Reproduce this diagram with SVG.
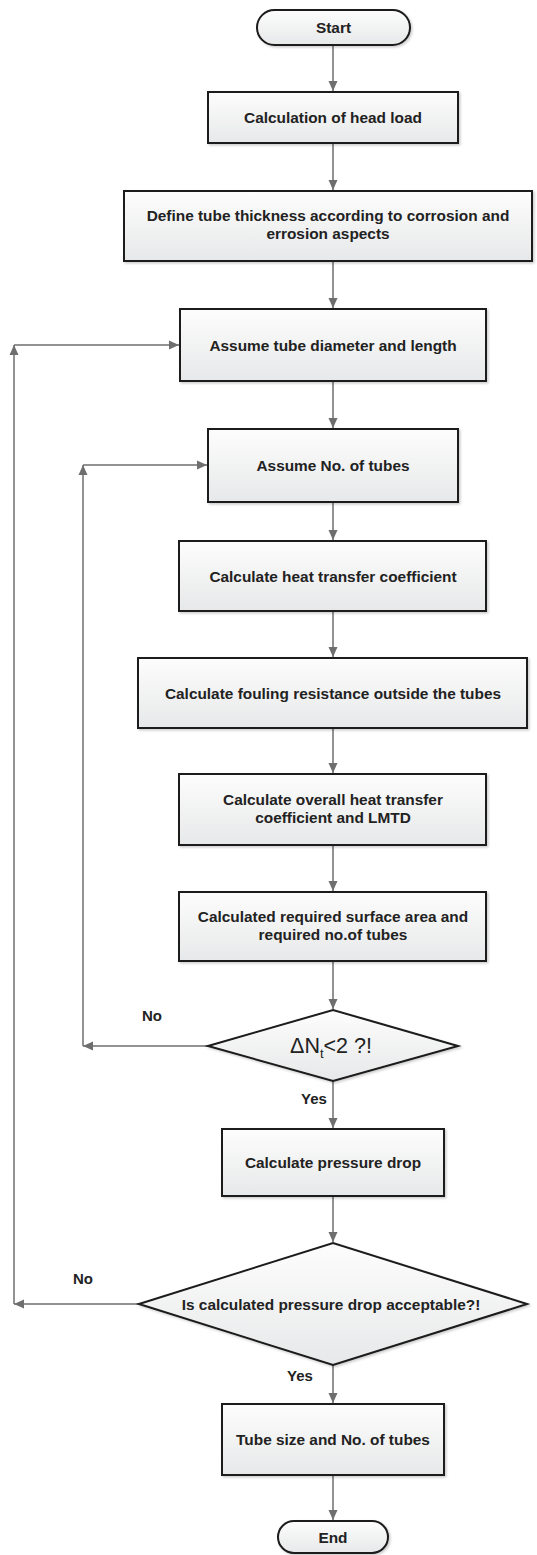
<svg xmlns="http://www.w3.org/2000/svg" width="537" height="1555" viewBox="0 0 537 1555">
<style>
.box{fill:url(#g);stroke:#1a1a1a;stroke-width:2;filter:url(#sh)}
.t{font-family:"Liberation Sans",Arial,sans-serif;font-size:15.4px;font-weight:bold;fill:#222;text-anchor:middle}
.c{fill:none;stroke:#6e6e6e;stroke-width:1.5;marker-end:url(#a)}
.lbl{font-family:"Liberation Sans",Arial,sans-serif;font-size:15px;font-weight:bold;fill:#222;text-anchor:middle}
</style>
<defs>
<linearGradient id="g" x1="0" y1="0" x2="0" y2="1">
<stop offset="0" stop-color="#fdfdfd"/>
<stop offset="1" stop-color="#e7e8e9"/>
</linearGradient>
<filter id="sh" x="-10%" y="-20%" width="120%" height="140%">
<feDropShadow dx="1.5" dy="1.5" stdDeviation="1.2" flood-color="#000" flood-opacity="0.2"/>
</filter>
<marker id="a" markerUnits="userSpaceOnUse" markerWidth="10" markerHeight="10" viewBox="0 0 10 10" refX="10" refY="5" orient="auto">
<path d="M0,0.5 L10,5 L0,9.5 z" fill="#6e6e6e"/>
</marker>
</defs>
<g id="connectors">
<line class="c" x1="333" y1="45" x2="333" y2="91"/>
<line class="c" x1="333" y1="143" x2="333" y2="190"/>
<line class="c" x1="333" y1="261" x2="333" y2="308"/>
<line class="c" x1="333" y1="381" x2="333" y2="428"/>
<line class="c" x1="333" y1="502" x2="333" y2="540"/>
<line class="c" x1="333" y1="611" x2="333" y2="657"/>
<line class="c" x1="333" y1="728" x2="333" y2="773"/>
<line class="c" x1="333" y1="845" x2="333" y2="891"/>
<line class="c" x1="333" y1="961" x2="333" y2="1009"/>
<line class="c" x1="333" y1="1081" x2="333" y2="1128"/>
<line class="c" x1="333" y1="1196" x2="333" y2="1242"/>
<line class="c" x1="333" y1="1365" x2="333" y2="1403"/>
<line class="c" x1="333" y1="1475" x2="333" y2="1520"/>
<line class="c" x1="208" y1="1046" x2="83" y2="1046"/>
<line class="c" x1="83" y1="1046" x2="83" y2="465"/>
<line class="c" x1="83" y1="465" x2="207" y2="465"/>
<line class="c" x1="139" y1="1304" x2="14" y2="1304"/>
<line class="c" x1="14" y1="1304" x2="14" y2="345"/>
<line class="c" x1="14" y1="345" x2="179" y2="345"/>
<text class="lbl" x="152" y="1021">No</text>
<text class="lbl" x="314" y="1104">Yes</text>
<text class="lbl" x="83" y="1284">No</text>
<text class="lbl" x="300" y="1381">Yes</text>
</g>
<g id="start">
<rect class="box" x="257" y="10" width="153" height="35" rx="17.5"/>
<text class="t" x="333.5" y="33">Start</text>
</g>
<g id="head-load">
<rect class="box" x="208" y="92" width="250" height="51"/>
<text class="t" x="333" y="123">Calculation of head load</text>
</g>
<g id="define-thickness">
<rect class="box" x="124" y="191" width="408" height="70"/>
<text class="t" x="328" y="221">Define tube thickness according to corrosion and</text>
<text class="t" x="328" y="239">errosion aspects</text>
</g>
<g id="assume-diameter">
<rect class="box" x="180" y="309" width="306" height="72"/>
<text class="t" x="333" y="350.5">Assume tube diameter and length</text>
</g>
<g id="assume-number">
<rect class="box" x="208" y="429" width="250" height="73"/>
<text class="t" x="333" y="471">Assume No. of tubes</text>
</g>
<g id="heat-transfer">
<rect class="box" x="179" y="541" width="307" height="70"/>
<text class="t" x="333" y="581.5">Calculate heat transfer coefficient</text>
</g>
<g id="fouling">
<rect class="box" x="138" y="658" width="389" height="70"/>
<text class="t" x="333" y="698.5">Calculate fouling resistance outside the tubes</text>
</g>
<g id="overall">
<rect class="box" x="179" y="774" width="307" height="71"/>
<text class="t" x="333" y="805">Calculate overall heat transfer</text>
<text class="t" x="333" y="823">coefficient and LMTD</text>
</g>
<g id="required-area">
<rect class="box" x="179" y="892" width="307" height="69"/>
<text class="t" x="333" y="922">Calculated required surface area and</text>
<text class="t" x="333" y="940">required no.of tubes</text>
</g>
<g id="decision-nt">
<polygon class="box" points="208,1046 333,1010 458,1046 333,1081"/>
<text x="331" y="1053" style="font-family:'Liberation Sans',Arial,sans-serif;font-size:21.5px;fill:#222;text-anchor:middle">ΔN<tspan font-size="13" dy="5">t</tspan><tspan dy="-5">&lt;2 ?!</tspan></text>
</g>
<g id="pressure-drop">
<rect class="box" x="222" y="1129" width="222" height="67"/>
<text class="t" x="333" y="1168">Calculate pressure drop</text>
</g>
<g id="decision-pressure">
<polygon class="box" points="139,1304 333,1243 527,1304 333,1365"/>
<text class="t" x="331" y="1309.5">Is calculated pressure drop acceptable?!</text>
</g>
<g id="tube-size">
<rect class="box" x="222" y="1404" width="222" height="71"/>
<text class="t" x="333" y="1445">Tube size and No. of tubes</text>
</g>
<g id="end">
<rect class="box" x="278" y="1521" width="110" height="32" rx="16"/>
<text class="t" x="333" y="1543">End</text>
</g>
</svg>
